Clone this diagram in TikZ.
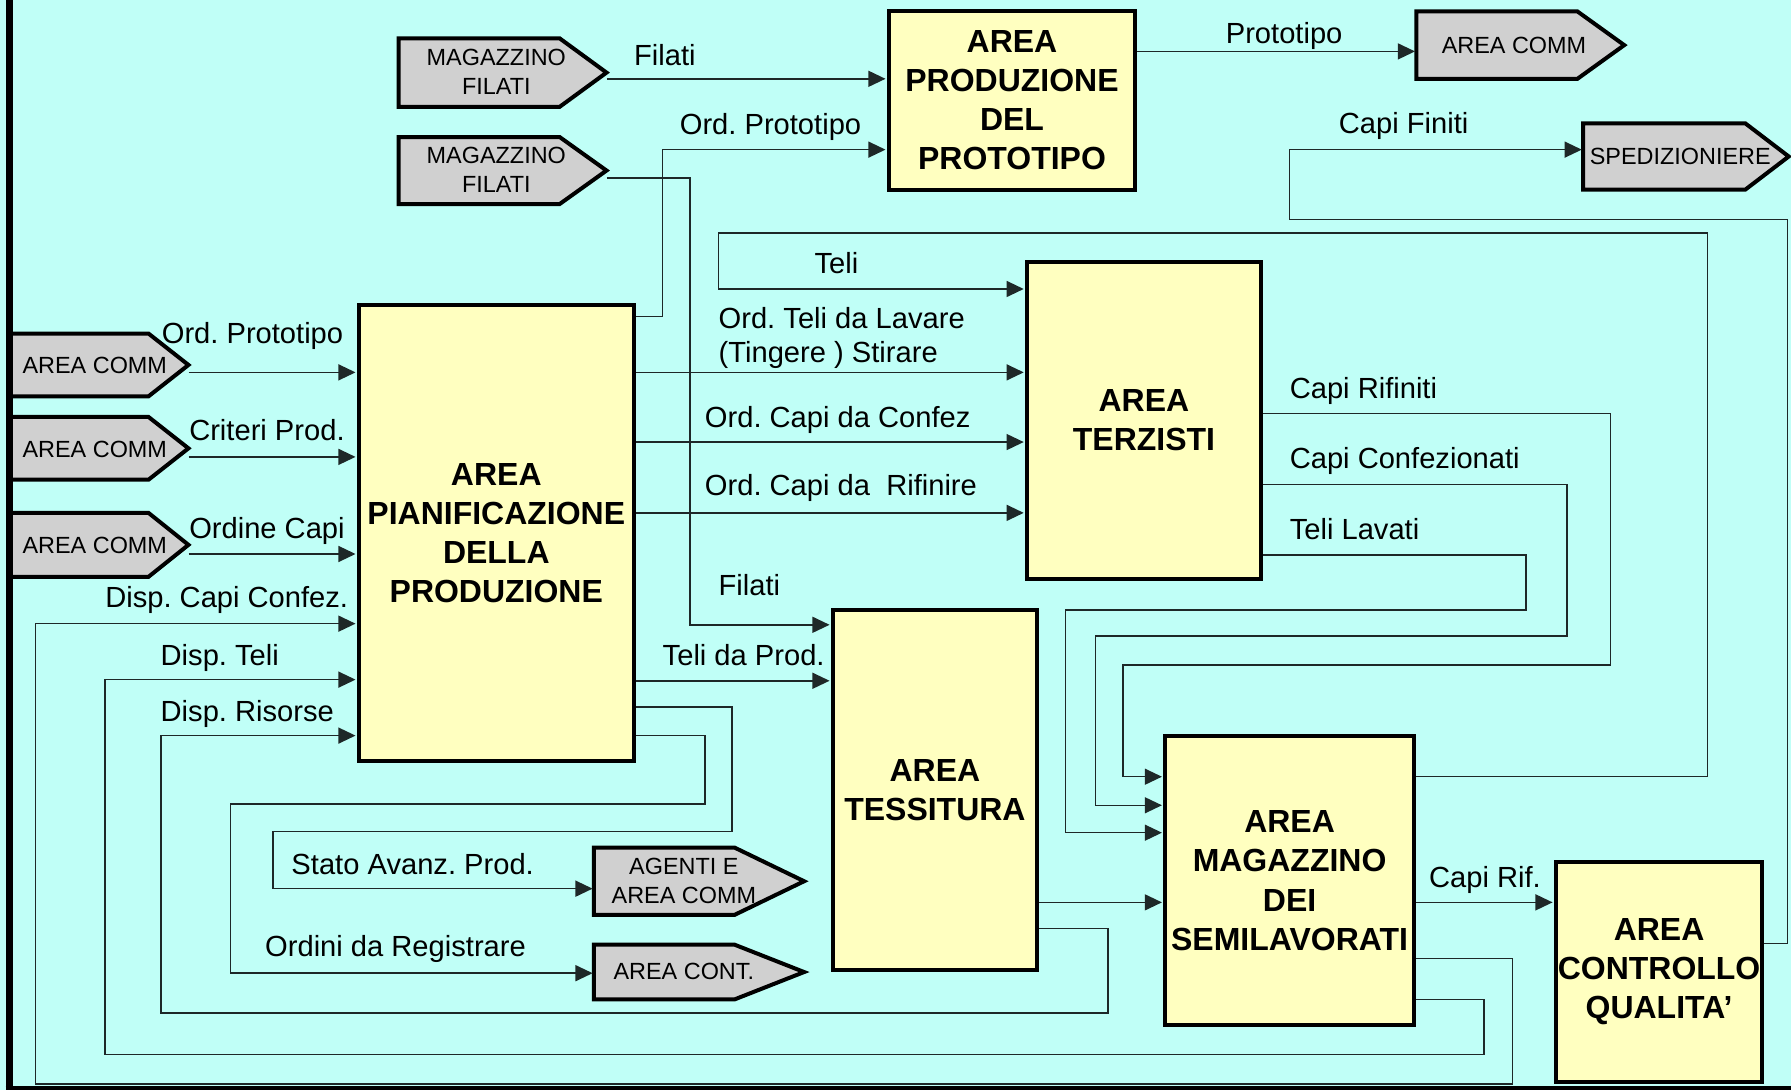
\documentclass[tikz,border=0pt]{standalone}
\usepackage{fontspec}
\setmainfont{Liberation Sans}
\usetikzlibrary{arrows.meta}
\definecolor{bgc}{RGB}{192,255,247}
\definecolor{boxc}{RGB}{255,255,192}
\definecolor{pentc}{RGB}{208,208,208}
\definecolor{linec}{RGB}{30,40,40}
\tikzset{
  area/.style={draw=black, line width=3.5pt, fill=boxc, inner sep=0pt, align=center, font=\fontsize{28}{34.2}\selectfont\bfseries},
  pent/.style={draw=black, line width=3.5pt, fill=pentc, line join=miter},
  penttext/.style={inner sep=0pt, align=center, font=\fontsize{20.5}{25.5}\selectfont, text=black},
  lbl/.style={inner sep=0pt, anchor=base west, font=\fontsize{25.5}{30}\selectfont},
  conn/.style={draw=linec, line width=1.3pt},
  arr/.style={conn, -{Triangle[length=15pt,width=14pt]}, shorten >=1pt},
}
\newcommand\pentshape[6]{%
  \draw[pent] (#2,#5) -- (#3,#5) -- (#4,{(#5+#6)/2}) -- (#3,#6) -- (#2,#6) -- cycle;
  \node[inner sep=0pt, minimum width={#4-#2}, minimum height={#6-#5}] (#1) at ({(#2+#4)/2},{(#5+#6)/2}) {};
}
\begin{document}
\frenchspacing
\begin{tikzpicture}[x=1pt,y=-1pt]
\useasboundingbox (0,0) rectangle (1568,954);
\fill[bgc] (0,0) rectangle (1568,954);

% main boxes
\node[area, minimum width=216, minimum height=156] (proto) at (886,88) {AREA\\PRODUZIONE\\DEL\\PROTOTIPO};
\node[area, minimum width=241, minimum height=399] (pian) at (434.5,466.5) {AREA\\PIANIFICAZIONE\\DELLA\\PRODUZIONE};
\node[area, minimum width=205, minimum height=278] (terz) at (1001.5,368) {AREA\\TERZISTI};
\node[area, minimum width=179, minimum height=315] (tess) at (818.5,691.5) {AREA\\TESSITURA};
\node[area, minimum width=218, minimum height=253] (mag) at (1129,771) {AREA\\MAGAZZINO\\DEI\\SEMILAVORATI};
\node[area, minimum width=181, minimum height=192] (cq) at (1452.5,851) {AREA\\CONTROLLO\\QUALITA’};

% external pentagons
\pentshape{mf1}{349}{490}{531}{33.6}{93.5}
\pentshape{mf2}{349}{490}{531}{120}{178.6}
\pentshape{ac0}{1240}{1381}{1422}{10}{69}
\pentshape{sped}{1386}{1528}{1566}{108}{166}
\pentshape{acl1}{8}{130}{165}{292}{347}
\pentshape{acl2}{8}{130}{165}{365}{420}
\pentshape{acl3}{8}{130}{165}{449}{505}
\pentshape{age}{520}{643}{704}{742}{801}
\pentshape{cont}{520}{643}{704}{827}{875}

\node[penttext] (tmf1) at (434.5,62.7) {MAGAZZINO\\FILATI};
\node[penttext] (tmf2) at (434.5,148.3) {MAGAZZINO\\FILATI};
\node[penttext] (tac0) at (1325.5,39.4) {AREA COMM};
\node[penttext] (tsped) at (1471,137) {SPEDIZIONIERE};
\node[penttext] (tacl1) at (83,319.6) {AREA COMM};
\node[penttext] (tacl2) at (83,393.4) {AREA COMM};
\node[penttext] (tacl3) at (83,477.5) {AREA COMM};
\node[penttext] (tage) at (598.7,771.6) {AGENTI E\\AREA COMM};
\node[penttext] (tcont) at (598.7,850.7) {AREA CONT.};

% connectors
\draw[arr] (mf1.east |- 0,69) -- (proto.west |- 0,69);
\draw[arr] (pian.east |- 0,277) -- (580,277) -- (580,131) -- (proto.west |- 0,131);
\draw[arr] (mf2.east |- 0,156) -- (604,156) -- (604,547) -- (tess.west |- 0,547);
\draw[arr] (proto.east |- 0,45) -- (ac0.west |- 0,45);
\draw[arr] (cq.east |- 0,826) -- (1565,826) -- (1565,192) -- (1129,192) -- (1129,131) -- (sped.west |- 0,131);
\draw[arr] (mag.east |- 0,680) -- (1495,680) -- (1495,204) -- (629,204) -- (629,253) -- (terz.west |- 0,253);
\draw[arr] (pian.east |- 0,326) -- (terz.west |- 0,326);
\draw[arr] (pian.east |- 0,387) -- (terz.west |- 0,387);
\draw[arr] (pian.east |- 0,449) -- (terz.west |- 0,449);
\draw[arr] (pian.east |- 0,596) -- (tess.west |- 0,596);
\draw[arr] (pian.east |- 0,619) -- (641,619) -- (641,728) -- (239,728) -- (239,778) -- (age.west |- 0,778);
\draw[arr] (pian.east |- 0,644) -- (617,644) -- (617,704) -- (202,704) -- (202,852) -- (cont.west |- 0,852);
\draw[arr] (acl1.east |- 0,326) -- (pian.west |- 0,326);
\draw[arr] (acl2.east |- 0,400) -- (pian.west |- 0,400);
\draw[arr] (acl3.east |- 0,485) -- (pian.west |- 0,485);
\draw[arr] (mag.east |- 0,839) -- (1324,839) -- (1324,949) -- (31,949) -- (31,546) -- (pian.west |- 0,546);
\draw[arr] (mag.east |- 0,875) -- (1299,875) -- (1299,923) -- (92,923) -- (92,595) -- (pian.west |- 0,595);
\draw[arr] (tess.east |- 0,813) -- (970,813) -- (970,887) -- (141,887) -- (141,644) -- (pian.west |- 0,644);
\draw[arr] (tess.east |- 0,790) -- (mag.west |- 0,790);
\draw[arr] (mag.east |- 0,790) -- (cq.west |- 0,790);
\draw[arr] (terz.east |- 0,362) -- (1410,362) -- (1410,582) -- (983,582) -- (983,680) -- (mag.west |- 0,680);
\draw[arr] (terz.east |- 0,424) -- (1372,424) -- (1372,557) -- (959,557) -- (959,705) -- (mag.west |- 0,705);
\draw[arr] (terz.east |- 0,486) -- (1336,486) -- (1336,534) -- (933,534) -- (933,729) -- (mag.west |- 0,729);

% labels
\node[lbl] (l1) at (555,57.5) {Filati};
\node[lbl] (l2) at (595,118) {Ord. Prototipo};
\node[lbl] (l3) at (1073,38.5) {Prototipo};
\node[lbl] (l4) at (1172,117) {Capi Finiti};
\node[lbl] (l5) at (713,239.5) {Teli};
\node[lbl] (l6) at (629,288) {Ord. Teli da Lavare};
\node[lbl] (l7) at (629,317) {(Tingere ) Stirare};
\node[lbl] (l8) at (617,374) {Ord. Capi da Confez};
\node[lbl] (l9) at (617,434) {Ord. Capi da \ Rifinire};
\node[lbl] (l10) at (629,521) {Filati};
\node[lbl] (l11) at (580,582.5) {Teli da Prod.};
\node[lbl] (l12) at (1129,349) {Capi Rifiniti};
\node[lbl] (l13) at (1129,410.5) {Capi Confezionati};
\node[lbl] (l14) at (1129,472.5) {Teli Lavati};
\node[lbl] (l15) at (1251,777) {Capi Rif.};
\node[lbl] (l16) at (141.5,300.5) {Ord. Prototipo};
\node[lbl] (l17) at (165.5,385.5) {Criteri Prod.};
\node[lbl] (l18) at (165.5,471.5) {Ordine Capi};
\node[lbl] (l19) at (92,531.5) {Disp. Capi Confez.};
\node[lbl] (l20) at (140.5,582.5) {Disp. Teli};
\node[lbl] (l21) at (140.5,631.5) {Disp. Risorse};
\node[lbl] (l22) at (255,765.5) {Stato Avanz. Prod.};
\node[lbl] (l23) at (232,837.5) {Ordini da Registrare};

% frame
\draw[line width=6pt] (8,0) -- (8,954);
\draw[line width=3.5pt] (5,952.3) -- (1568,952.3);
\end{tikzpicture}
\end{document}
